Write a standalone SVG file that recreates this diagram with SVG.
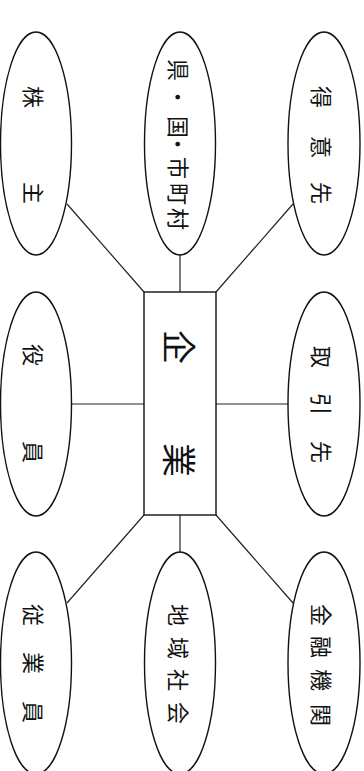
<svg xmlns="http://www.w3.org/2000/svg" width="364" height="771" viewBox="0 0 364 771">
<style>
.n{fill:#fff;stroke:#111;stroke-width:1.4}
.c{stroke:#222;stroke-width:1.2;fill:none}
.t{font-family:"Noto Sans CJK JP","Noto Sans CJK SC",sans-serif;font-size:22px;fill:#111;text-anchor:middle;dominant-baseline:central}
.big{font-size:34px}
</style>
<rect width="364" height="771" fill="#fff"/>
<g id="connectors">
<line class="c" x1="144" y1="292" x2="67" y2="204"/>
<line class="c" x1="180" y1="292" x2="180" y2="255"/>
<line class="c" x1="216" y1="292" x2="293" y2="204"/>
<line class="c" x1="144" y1="404" x2="71" y2="404"/>
<line class="c" x1="216" y1="404" x2="288" y2="404"/>
<line class="c" x1="144" y1="515" x2="67" y2="603"/>
<line class="c" x1="180" y1="515" x2="180" y2="552"/>
<line class="c" x1="216" y1="515" x2="293" y2="603"/>
</g>
<g id="kigyo">
<rect class="n" x="144" y="292" width="72" height="223"/>
<text class="t big" transform="rotate(90)" x="347 460" y="-180">企業</text>
</g>
<g id="kabunushi">
<ellipse class="n" cx="36" cy="143.5" rx="35.5" ry="111.5"/>
<text class="t" transform="rotate(90)" x="97 193" y="-35">株主</text>
</g>
<g id="gyosei">
<ellipse class="n" cx="180" cy="143.5" rx="35.5" ry="111.5"/>
<text class="t" transform="rotate(90)" x="70 97 127 144 168 194 219" y="-180">県・国・市町村</text>
</g>
<g id="tokuisaki">
<ellipse class="n" cx="324" cy="143.5" rx="36" ry="111.5"/>
<text class="t" transform="rotate(90)" x="97 147 193" y="-323">得意先</text>
</g>
<g id="yakuin">
<ellipse class="n" cx="36" cy="404" rx="35.5" ry="112"/>
<text class="t" transform="rotate(90)" x="355 452" y="-35">役員</text>
</g>
<g id="torihikisaki">
<ellipse class="n" cx="324" cy="404" rx="36" ry="112"/>
<text class="t" transform="rotate(90)" x="357 404 452" y="-323">取引先</text>
</g>
<g id="jugyoin">
<ellipse class="n" cx="36" cy="663" rx="35.5" ry="111"/>
<text class="t" transform="rotate(90)" x="615 663 712" y="-35">従業員</text>
</g>
<g id="chiiki">
<ellipse class="n" cx="180" cy="663" rx="35.5" ry="111"/>
<text class="t" transform="rotate(90)" x="615 648 680 713" y="-180">地域社会</text>
</g>
<g id="kinyu">
<ellipse class="n" cx="324" cy="663" rx="36" ry="111"/>
<text class="t" transform="rotate(90)" x="615 647 680 715" y="-323">金融機関</text>
</g>
</svg>
